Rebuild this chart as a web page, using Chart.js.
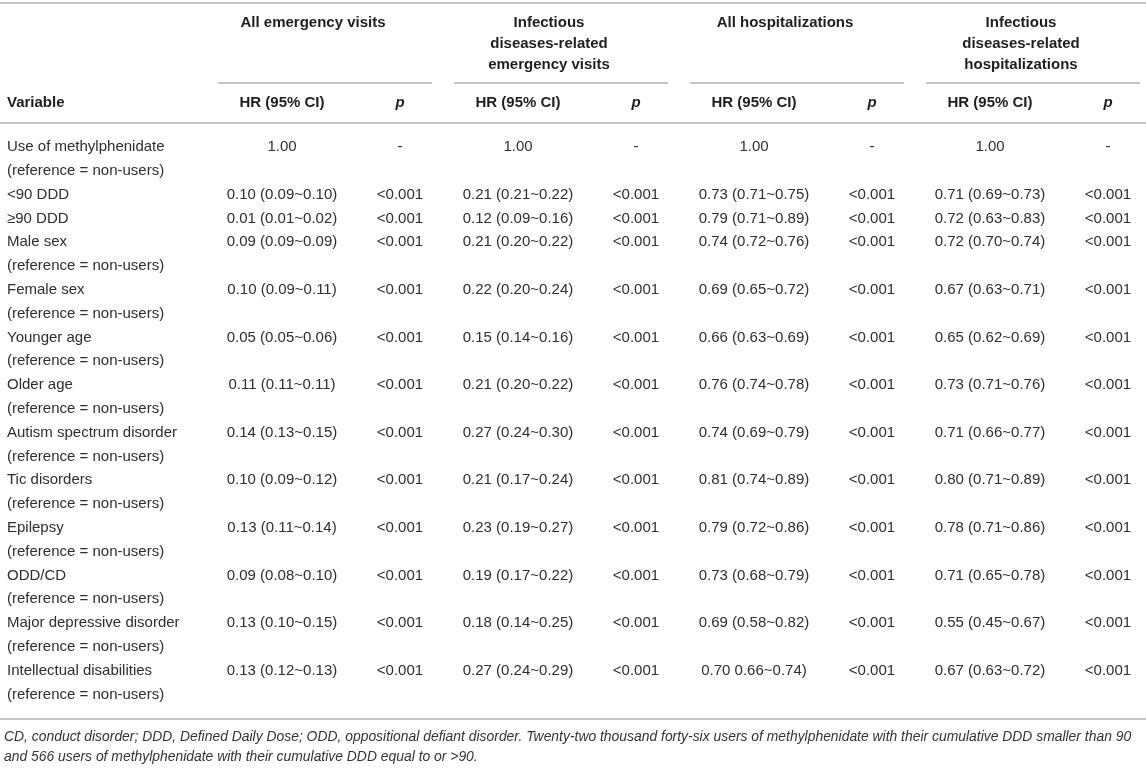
<!DOCTYPE html>
<html>
<head>
<meta charset="utf-8">
<script src="https://cdn.jsdelivr.net/npm/chart.js@4.4.1/dist/chart.umd.min.js"></script>
<style>
  html, body { margin: 0; padding: 0; background: #ffffff; }
  #wrap { width: 1146px; height: 768px; }
</style>
</head>
<body>
<div id="wrap"><canvas id="c" width="1146" height="768"></canvas></div>
<script>
// ---------------- DATA ----------------
const groupTitles = [
  ["All emergency visits"],
  ["Infectious", "diseases-related", "emergency visits"],
  ["All hospitalizations"],
  ["Infectious", "diseases-related", "hospitalizations"]
];
const columnHeaders = ["HR (95% CI)", "p"];
const variableHeader = "Variable";

const variables = [
  "Use of methylphenidate", "<90 DDD", "\u226590 DDD", "Male sex", "Female sex",
  "Younger age", "Older age", "Autism spectrum disorder", "Tic disorders",
  "Epilepsy", "ODD/CD", "Major depressive disorder", "Intellectual disabilities"
];
const variableNotes = [
  "(reference = non-users)", "", "", "(reference = non-users)", "(reference = non-users)",
  "(reference = non-users)", "(reference = non-users)", "(reference = non-users)", "(reference = non-users)",
  "(reference = non-users)", "(reference = non-users)", "(reference = non-users)", "(reference = non-users)"
];

const hrAllEmergency = [
  "1.00", "0.10 (0.09~0.10)", "0.01 (0.01~0.02)", "0.09 (0.09~0.09)", "0.10 (0.09~0.11)",
  "0.05 (0.05~0.06)", "0.11 (0.11~0.11)", "0.14 (0.13~0.15)", "0.10 (0.09~0.12)",
  "0.13 (0.11~0.14)", "0.09 (0.08~0.10)", "0.13 (0.10~0.15)", "0.13 (0.12~0.13)"
];
const pAllEmergency = ["-", "<0.001", "<0.001", "<0.001", "<0.001", "<0.001", "<0.001", "<0.001", "<0.001", "<0.001", "<0.001", "<0.001", "<0.001"];

const hrInfEmergency = [
  "1.00", "0.21 (0.21~0.22)", "0.12 (0.09~0.16)", "0.21 (0.20~0.22)", "0.22 (0.20~0.24)",
  "0.15 (0.14~0.16)", "0.21 (0.20~0.22)", "0.27 (0.24~0.30)", "0.21 (0.17~0.24)",
  "0.23 (0.19~0.27)", "0.19 (0.17~0.22)", "0.18 (0.14~0.25)", "0.27 (0.24~0.29)"
];
const pInfEmergency = ["-", "<0.001", "<0.001", "<0.001", "<0.001", "<0.001", "<0.001", "<0.001", "<0.001", "<0.001", "<0.001", "<0.001", "<0.001"];

const hrAllHosp = [
  "1.00", "0.73 (0.71~0.75)", "0.79 (0.71~0.89)", "0.74 (0.72~0.76)", "0.69 (0.65~0.72)",
  "0.66 (0.63~0.69)", "0.76 (0.74~0.78)", "0.74 (0.69~0.79)", "0.81 (0.74~0.89)",
  "0.79 (0.72~0.86)", "0.73 (0.68~0.79)", "0.69 (0.58~0.82)", "0.70 0.66~0.74)"
];
const pAllHosp = ["-", "<0.001", "<0.001", "<0.001", "<0.001", "<0.001", "<0.001", "<0.001", "<0.001", "<0.001", "<0.001", "<0.001", "<0.001"];

const hrInfHosp = [
  "1.00", "0.71 (0.69~0.73)", "0.72 (0.63~0.83)", "0.72 (0.70~0.74)", "0.67 (0.63~0.71)",
  "0.65 (0.62~0.69)", "0.73 (0.71~0.76)", "0.71 (0.66~0.77)", "0.80 (0.71~0.89)",
  "0.78 (0.71~0.86)", "0.71 (0.65~0.78)", "0.55 (0.45~0.67)", "0.67 (0.63~0.72)"
];
const pInfHosp = ["-", "<0.001", "<0.001", "<0.001", "<0.001", "<0.001", "<0.001", "<0.001", "<0.001", "<0.001", "<0.001", "<0.001", "<0.001"];

const footnoteLines = [
  "CD, conduct disorder; DDD, Defined Daily Dose; ODD, oppositional defiant disorder. Twenty-two thousand forty-six users of methylphenidate with their cumulative DDD smaller than 90",
  "and 566 users of methylphenidate with their cumulative DDD equal to or >90."
];

// ---------------- LAYOUT (scale units) ----------------
// x: one unit per table column; y: one unit per text line of the body
const W = 1146, H = 768;
const COL_PX = 118, LINE_PX = 23.8;
const X_MIN = 1 - 282 / COL_PX, X_MAX = X_MIN + W / COL_PX;
const Y_MIN = -147 / LINE_PX, Y_MAX = Y_MIN + H / LINE_PX;
const px2x = p => X_MIN + p / COL_PX;   // helpers for layout constants
const px2y = p => Y_MIN + p / LINE_PX;

const LAYOUT = {
  labelX: px2x(7),
  footX: px2x(4),
  groupTitleX0: px2x(313),
  groupRuleFrom: px2x(218), groupRuleTo: px2x(432),
  groupTitleY0: px2y(23), groupTitleStep: 21 / LINE_PX,
  headerY: px2y(103),
  topRuleY: px2y(3), groupRuleY: px2y(83), headerRuleY: px2y(123), bottomRuleY: px2y(719),
  footY0: px2y(737), footStep: 20 / LINE_PX
};

const FONT = '"Liberation Sans", Arial, Helvetica, sans-serif';
const BODY = { font: '15px ' + FONT, color: '#2e2e2e' };
const BOLD = { font: 'bold 15px ' + FONT, color: '#1e1e1e' };
const BOLDIT = { font: 'italic bold 15px ' + FONT, color: '#1e1e1e' };
const FOOT = { font: 'italic 13.9px ' + FONT, color: '#333333' };
const RULE = '#c6c6c6';

// ---------------- BUILD DATASETS ----------------
const datasets = [];
function textSet(points, texts, style, align) {
  datasets.push({
    type: 'scatter', data: points, texts: texts, textStyle: style, textAlign: align,
    pointRadius: 0, pointHoverRadius: 0, showLine: false
  });
}
function rule(x0, x1, y) {
  datasets.push({
    type: 'line', data: [{ x: x0, y: y }, { x: x1, y: y }],
    borderColor: RULE, borderWidth: 2, pointRadius: 0, pointHoverRadius: 0, fill: false, clip: false
  });
}

// line index of each variable row (rows with a note take two lines)
const rowLine = [];
let ln = 0;
variables.forEach((v, i) => { rowLine.push(ln); ln += variableNotes[i] ? 2 : 1; });

// rules
rule(X_MIN, X_MAX, LAYOUT.topRuleY);
groupTitles.forEach((g, gi) => rule(LAYOUT.groupRuleFrom + 2 * gi, LAYOUT.groupRuleTo + 2 * gi, LAYOUT.groupRuleY));
rule(X_MIN, X_MAX, LAYOUT.headerRuleY);
rule(X_MIN, X_MAX, LAYOUT.bottomRuleY);

// group titles
{
  const pts = [], txt = [];
  groupTitles.forEach((lines, gi) => lines.forEach((t, j) => {
    pts.push({ x: LAYOUT.groupTitleX0 + 2 * gi, y: LAYOUT.groupTitleY0 + j * LAYOUT.groupTitleStep });
    txt.push(t);
  }));
  textSet(pts, txt, BOLD, 'center');
}
// column headers
textSet([{ x: LAYOUT.labelX, y: LAYOUT.headerY }], [variableHeader], BOLD, 'left');
textSet(groupTitles.map((g, gi) => ({ x: 1 + 2 * gi, y: LAYOUT.headerY })), groupTitles.map(() => columnHeaders[0]), BOLD, 'center');
textSet(groupTitles.map((g, gi) => ({ x: 2 + 2 * gi, y: LAYOUT.headerY })), groupTitles.map(() => columnHeaders[1]), BOLDIT, 'center');

// variable labels
textSet(variables.map((v, i) => ({ x: LAYOUT.labelX, y: rowLine[i] })), variables, BODY, 'left');
{
  const pts = [], txt = [];
  variableNotes.forEach((n, i) => { if (n) { pts.push({ x: LAYOUT.labelX, y: rowLine[i] + 1 }); txt.push(n); } });
  textSet(pts, txt, BODY, 'left');
}
// value columns
[hrAllEmergency, pAllEmergency, hrInfEmergency, pInfEmergency, hrAllHosp, pAllHosp, hrInfHosp, pInfHosp]
  .forEach((col, ci) => textSet(col.map((v, i) => ({ x: ci + 1, y: rowLine[i] })), col, BODY, 'center'));

// footnote
textSet(footnoteLines.map((t, i) => ({ x: LAYOUT.footX, y: LAYOUT.footY0 + i * LAYOUT.footStep })), footnoteLines, FOOT, 'left');

// ---------------- PLUGIN: draw cell texts at element positions ----------------
const tableText = {
  id: 'tableText',
  afterDatasetsDraw(chart) {
    const ctx = chart.ctx;
    chart.data.datasets.forEach((ds, i) => {
      if (!ds.texts) return;
      const meta = chart.getDatasetMeta(i);
      ctx.save();
      ctx.font = ds.textStyle.font;
      ctx.fillStyle = ds.textStyle.color;
      ctx.textAlign = ds.textAlign;
      ctx.textBaseline = 'middle';
      meta.data.forEach((el, j) => ctx.fillText(ds.texts[j], el.x, el.y));
      ctx.restore();
    });
  }
};

new Chart(document.getElementById('c'), {
  type: 'scatter',
  data: { datasets: datasets },
  options: {
    responsive: false,
    animation: false,
    events: [],
    layout: { padding: 0 },
    plugins: { legend: { display: false }, tooltip: { enabled: false } },
    scales: {
      x: { type: 'linear', min: X_MIN, max: X_MAX, display: false },
      y: { type: 'linear', min: Y_MIN, max: Y_MAX, reverse: true, display: false }
    }
  },
  plugins: [tableText]
});
</script>
</body>
</html>
